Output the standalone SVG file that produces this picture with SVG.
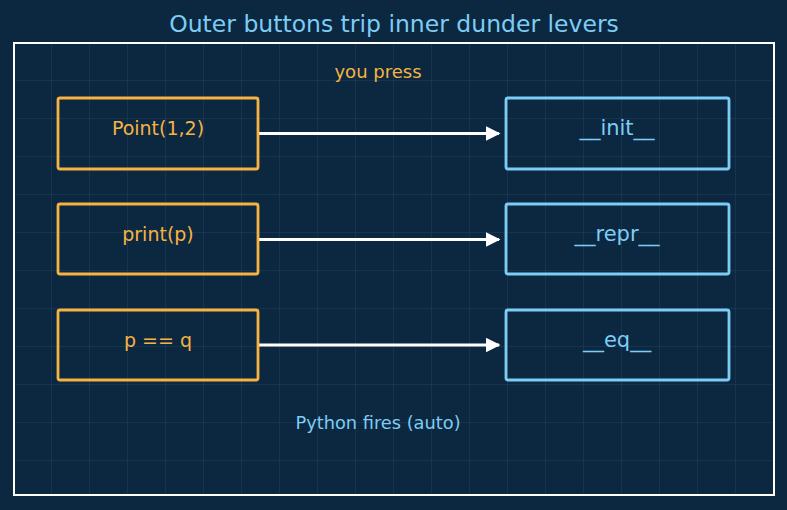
<svg xmlns="http://www.w3.org/2000/svg" width="787" height="510" viewBox="0 0 787 510">
<defs>
<pattern id="grid" x="14" y="43" width="38" height="38" patternUnits="userSpaceOnUse">
<path d="M38 0V38M0 38H38" fill="none" stroke="#2a4a63" stroke-width="1" opacity="0.7"/>
</pattern>
<marker id="ah" viewBox="0 0 10 10" refX="9" refY="5" markerWidth="5" markerHeight="5" orient="auto" markerUnits="strokeWidth">
<path d="M0 0L10 5L0 10z" fill="#ffffff"/>
</marker>
</defs>
<style>
text{font-family:"DejaVu Sans","Noto Sans",sans-serif;text-anchor:middle}
.ob{fill:none;stroke:#f5b342;stroke-width:2.8}
.bb{fill:none;stroke:#7ccdf5;stroke-width:2.8}
.ot{fill:#f5b342;font-size:19px}
.bt{fill:#7ccdf5;font-size:21px}
.c{stroke:#ffffff;stroke-width:3;fill:none;marker-end:url(#ah)}
</style>
<rect width="787" height="510" fill="#0c2740"/>
<rect x="14" y="43" width="760" height="452" fill="url(#grid)"/>
<rect x="14" y="43" width="760" height="452" fill="none" stroke="#ffffff" stroke-width="2"/>
<text x="394" y="32" style="fill:#7ccdf5;font-size:23.5px">Outer buttons trip inner dunder levers</text>
<text x="378" y="78" style="fill:#f5b342;font-size:18px">you press</text>
<text x="378" y="429" style="fill:#7ccdf5;font-size:17.8px">Python fires (auto)</text>
<g id="connectors">
<line class="c" x1="259" y1="133.5" x2="499" y2="133.5"/>
<line class="c" x1="259" y1="239.5" x2="499" y2="239.5"/>
<line class="c" x1="259" y1="345" x2="499" y2="345"/>
</g>
<g id="point"><rect class="ob" x="58" y="98" width="200" height="71" rx="2"/><text class="ot" x="158" y="135">Point(1,2)</text></g>
<g id="print"><rect class="ob" x="58" y="204" width="200" height="70" rx="2"/><text class="ot" x="158" y="241">print(p)</text></g>
<g id="eqop"><rect class="ob" x="58" y="310" width="200" height="70" rx="2"/><text class="ot" x="158" y="347">p == q</text></g>
<g id="init"><rect class="bb" x="506" y="98" width="223" height="71" rx="2"/><text class="bt" x="617" y="135">__init__</text></g>
<g id="repr"><rect class="bb" x="506" y="204" width="223" height="70" rx="2"/><text class="bt" x="617" y="241">__repr__</text></g>
<g id="eq"><rect class="bb" x="506" y="310" width="223" height="70" rx="2"/><text class="bt" x="617" y="347">__eq__</text></g>
</svg>
